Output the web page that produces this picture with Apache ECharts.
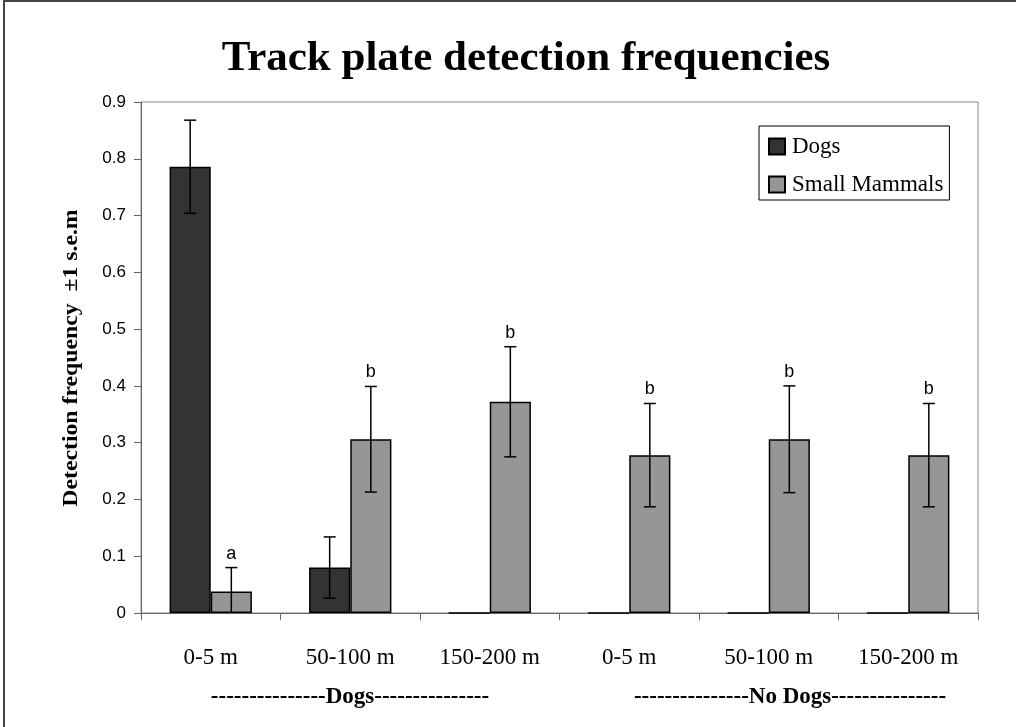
<!DOCTYPE html>
<html>
<head>
<meta charset="utf-8">
<script src="https://cdn.jsdelivr.net/npm/echarts@6/dist/echarts.min.js"></script>
<style>
  html, body { margin: 0; padding: 0; background: #fff; }
  #chart { width: 1016px; height: 727px; }
</style>
</head>
<body>
<div id="chart"></div>
<script>
// Distance classes, grouped by treatment (Dogs / No Dogs)
const categories = ['0-5 m', '50-100 m', '150-200 m', '0-5 m', '50-100 m', '150-200 m'];
const groupLabels = ['---------------Dogs---------------', '---------------No Dogs---------------'];

// Mean detection frequency and ±1 s.e.m.
const dogs = [0.786, 0.080, 0, 0, 0, 0];
const dogsErr = [0.082, 0.054, 0, 0, 0, 0];
const mammals = [0.038, 0.306, 0.372, 0.278, 0.306, 0.278];
const mammalsErr = [0.042, 0.093, 0.097, 0.091, 0.094, 0.091];
const letters = ['a', 'b', 'b', 'b', 'b', 'b'];

const yTicks = { min: 0, max: 0.9, interval: 0.1 };

const DOG_COLOR = '#333333';
const MAMMAL_COLOR = '#969696';
const CAT_GAP = 0.41;   // share of each band left empty
const SERIF = '"Liberation Serif", "Times New Roman", serif';
const SANS = '"Liberation Sans", Arial, sans-serif';

// Error bar (with optional letter above) for one bar of a two-bar group
function errorBars(side, labels) {
  return function (params, api) {
    const i = api.value(0);
    const mean = api.value(1);
    const err = api.value(2);
    const band = api.size([1, 0])[0];
    const barW = band * (1 - CAT_GAP) / 2;
    const center = api.coord([i, mean]);
    const x = center[0] + side * barW / 2;
    const children = [];
    if (err > 0) {
      const top = api.coord([i, mean + err])[1];
      const bot = api.coord([i, Math.max(0, mean - err)])[1];
      const cap = 6;
      const st = { stroke: '#000', lineWidth: 1.5 };
      children.push(
        { type: 'line', shape: { x1: x, y1: top, x2: x, y2: bot }, style: st },
        { type: 'line', shape: { x1: x - cap, y1: top, x2: x + cap, y2: top }, style: st }
      );
      if (mean - err > 0) {
        children.push({ type: 'line', shape: { x1: x - cap, y1: bot, x2: x + cap, y2: bot }, style: st });
      }
      if (labels) {
        children.push({
          type: 'text',
          style: {
            text: labels[i], x: x, y: top - 5,
            align: 'center', verticalAlign: 'bottom',
            font: '18px ' + SANS, fill: '#000'
          }
        });
      }
    }
    return { type: 'group', children: children };
  };
}

const chart = echarts.init(document.getElementById('chart'), null, { renderer: 'canvas' });

chart.setOption({
  backgroundColor: '#fff',
  animation: false,
  title: {
    text: 'Track plate detection frequencies',
    left: 521, top: 32, textAlign: 'center',
    textStyle: { fontFamily: SERIF, fontWeight: 'bold', fontSize: 43, color: '#000' }
  },
  legend: {
    orient: 'vertical',
    left: 759, top: 126,
    padding: [9, 6, 4, 9],
    itemWidth: 16, itemHeight: 16, itemGap: 15,
    borderColor: '#000', borderWidth: 1,
    icon: 'rect',
    textStyle: { fontFamily: SERIF, fontSize: 23, lineHeight: 23, color: '#000', padding: [0, 0, 0, 2] },
    data: ['Dogs', 'Small Mammals']
  },
  grid: {
    left: 141, top: 102, right: 38, bottom: 114,
    show: true, borderColor: '#888', borderWidth: 1, backgroundColor: '#fff'
  },
  xAxis: {
    type: 'category',
    data: categories,
    axisLine: { lineStyle: { color: '#666', width: 1 } },
    axisTick: { show: true, length: 7, lineStyle: { color: '#666' } },
    axisLabel: { fontFamily: SERIF, fontSize: 23, color: '#000', margin: 33, interval: 0 }
  },
  yAxis: {
    type: 'value',
    min: yTicks.min, max: yTicks.max, interval: yTicks.interval,
    axisLine: { show: true, lineStyle: { color: '#666', width: 1 } },
    axisTick: { show: true, length: 7, lineStyle: { color: '#666' } },
    splitLine: { show: false },
    axisLabel: { fontFamily: SANS, fontSize: 17, color: '#000', margin: 15 }
  },
  graphic: [
    { type: 'rect', z: -10, shape: { x: 4, y: 1, width: 1030, height: 740 },
      style: { fill: 'none', stroke: '#444', lineWidth: 2 } },
    { type: 'text', x: 72, y: 358, rotation: Math.PI / 2, scaleX: 1.13,
      style: { text: 'Detection frequency  ±1 s.e.m', font: 'bold 21px ' + SERIF,
               fill: '#000', align: 'center', verticalAlign: 'middle' } },
    { type: 'text', x: 350, y: 697,
      style: { text: groupLabels[0], font: 'bold 23px ' + SERIF, fill: '#000',
               align: 'center', verticalAlign: 'middle' } },
    { type: 'text', x: 790, y: 697,
      style: { text: groupLabels[1], font: 'bold 23px ' + SERIF, fill: '#000',
               align: 'center', verticalAlign: 'middle' } }
  ],
  series: [
    {
      name: 'Dogs', type: 'bar', data: dogs,
      barGap: '0%', barCategoryGap: (CAT_GAP * 100) + '%',
      itemStyle: { color: DOG_COLOR, borderColor: '#000', borderWidth: 1.5 }
    },
    {
      name: 'Small Mammals', type: 'bar', data: mammals,
      itemStyle: { color: MAMMAL_COLOR, borderColor: '#000', borderWidth: 1.5 }
    },
    {
      type: 'custom', name: 'dogErr', z: 5,
      renderItem: errorBars(-1, null),
      data: dogs.map((v, i) => [i, v, dogsErr[i]])
    },
    {
      type: 'custom', name: 'mammalErr', z: 5,
      renderItem: errorBars(1, letters),
      data: mammals.map((v, i) => [i, v, mammalsErr[i]])
    }
  ]
});
</script>
</body>
</html>
